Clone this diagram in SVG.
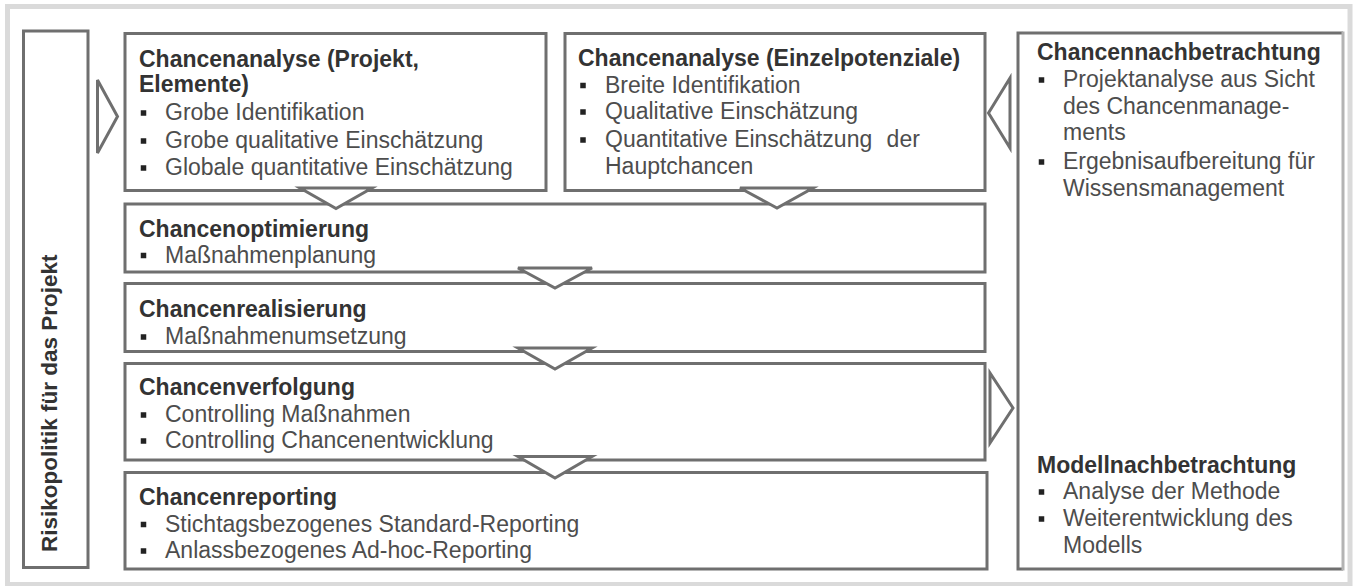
<svg xmlns="http://www.w3.org/2000/svg" width="1360" height="586" viewBox="0 0 1360 586">
<style>
.box{fill:#fff;stroke:#6f6f6f;stroke-width:3}
.tri{fill:#fff;stroke:#6f6f6f;stroke-width:3;stroke-linejoin:miter}
.t{font-family:"Liberation Sans",Arial,Helvetica,sans-serif;font-size:23px;fill:#4d4d4d}
.h{font-weight:bold;fill:#333}
.b{fill:#222}
</style>
<rect x="0" y="0" width="1360" height="586" fill="#fff"/>
<rect x="7.5" y="6.5" width="1342.5" height="578" fill="#fff" stroke="#dadada" stroke-width="5"/>

<g id="risikopolitik">
<rect class="box" x="23.5" y="31" width="64.5" height="536.5"/>
<text class="t h" transform="translate(57,552) rotate(-90)" style="font-size:22.5px">Risikopolitik für das Projekt</text>
</g>

<g id="chancenanalyse-projekt">
<rect class="box" x="125" y="33.5" width="421" height="157"/>
<text class="t h" x="139" y="66.5">Chancenanalyse (Projekt,</text>
<text class="t h" x="139" y="92">Elemente)</text>
<rect class="b" x="140.75" y="110.25" width="5.5" height="5.5"/>
<text class="t" x="165" y="120">Grobe Identifikation</text>
<rect class="b" x="140.75" y="138.25" width="5.5" height="5.5"/>
<text class="t" x="165" y="148">Grobe qualitative Einschätzung</text>
<rect class="b" x="140.75" y="165.25" width="5.5" height="5.5"/>
<text class="t" x="165" y="175">Globale quantitative Einschätzung</text>
</g>

<g id="chancenanalyse-einzel">
<rect class="box" x="565" y="33.5" width="420" height="157"/>
<text class="t h" x="578" y="66">Chancenanalyse (Einzelpotenziale)</text>
<rect class="b" x="580.25" y="82.75" width="5.5" height="5.5"/>
<text class="t" x="605" y="92.5">Breite Identifikation</text>
<rect class="b" x="580.25" y="109.25" width="5.5" height="5.5"/>
<text class="t" x="605" y="119">Qualitative Einschätzung</text>
<rect class="b" x="580.25" y="137.25" width="5.5" height="5.5"/>
<text class="t" x="605" y="147">Quantitative Einschätzung <tspan dx="8">der</tspan></text>
<text class="t" x="605" y="174">Hauptchancen</text>
</g>

<g id="chancenoptimierung">
<rect class="box" x="125" y="204" width="860" height="68"/>
<text class="t h" x="139" y="237">Chancenoptimierung</text>
<rect class="b" x="140.75" y="252.75" width="5.5" height="5.5"/>
<text class="t" x="165" y="262.5">Maßnahmenplanung</text>
</g>

<g id="chancenrealisierung">
<rect class="box" x="125" y="283.5" width="860" height="68"/>
<text class="t h" x="139" y="317">Chancenrealisierung</text>
<rect class="b" x="140.75" y="334.25" width="5.5" height="5.5"/>
<text class="t" x="165" y="344">Maßnahmenumsetzung</text>
</g>

<g id="chancenverfolgung">
<rect class="box" x="125" y="363.5" width="860" height="96.5"/>
<text class="t h" x="139" y="395">Chancenverfolgung</text>
<rect class="b" x="140.75" y="412.25" width="5.5" height="5.5"/>
<text class="t" x="165" y="422">Controlling Maßnahmen</text>
<rect class="b" x="140.75" y="438.25" width="5.5" height="5.5"/>
<text class="t" x="165" y="448">Controlling Chancenentwicklung</text>
</g>

<g id="chancenreporting">
<rect class="box" x="125" y="472.5" width="862" height="96.5"/>
<text class="t h" x="139" y="505">Chancenreporting</text>
<rect class="b" x="140.75" y="521.75" width="5.5" height="5.5"/>
<text class="t" x="165" y="531.5">Stichtagsbezogenes Standard-Reporting</text>
<rect class="b" x="140.75" y="548.25" width="5.5" height="5.5"/>
<text class="t" x="165" y="558">Anlassbezogenes Ad-hoc-Reporting</text>
</g>

<g id="nachbetrachtung">
<rect x="1018" y="33" width="325" height="536" fill="#fff" stroke="none"/>
<path d="M1343,33 H1018 V569 H1343" fill="none" stroke="#6f6f6f" stroke-width="3"/>
<line x1="1343" y1="31.5" x2="1343" y2="570.5" stroke="#b4b4b4" stroke-width="3"/>
<text class="t h" x="1037" y="60">Chancennachbetrachtung</text>
<rect class="b" x="1038.75" y="77.25" width="5.5" height="5.5"/>
<text class="t" x="1063" y="87">Projektanalyse aus Sicht</text>
<text class="t" x="1063" y="113.5">des Chancenmanage-</text>
<text class="t" x="1063" y="140">ments</text>
<rect class="b" x="1038.75" y="159.25" width="5.5" height="5.5"/>
<text class="t" x="1063" y="169">Ergebnisaufbereitung für</text>
<text class="t" x="1063" y="196">Wissensmanagement</text>
<text class="t h" x="1037" y="473">Modellnachbetrachtung</text>
<rect class="b" x="1038.75" y="489.25" width="5.5" height="5.5"/>
<text class="t" x="1063" y="499">Analyse der Methode</text>
<rect class="b" x="1038.75" y="516.25" width="5.5" height="5.5"/>
<text class="t" x="1063" y="526">Weiterentwicklung des</text>
<text class="t" x="1063" y="553">Modells</text>
</g>

<g id="connectors">
<polygon class="tri" points="300,188 372,188 336,208.5"/>
<polygon class="tri" points="740,188 813,188 777,208"/>
<polygon class="tri" points="518,268 592,268 555,288"/>
<polygon class="tri" points="518,348 592,348 555,369"/>
<polygon class="tri" points="518,456.5 592,456.5 555,478"/>
<polygon class="tri" points="97.5,80 97.5,153 117.5,116.5"/>
<polygon class="tri" points="1010,78 1010,148 988.5,113"/>
<polygon class="tri" points="990,373 990,443 1013,408"/>
</g>
</svg>
